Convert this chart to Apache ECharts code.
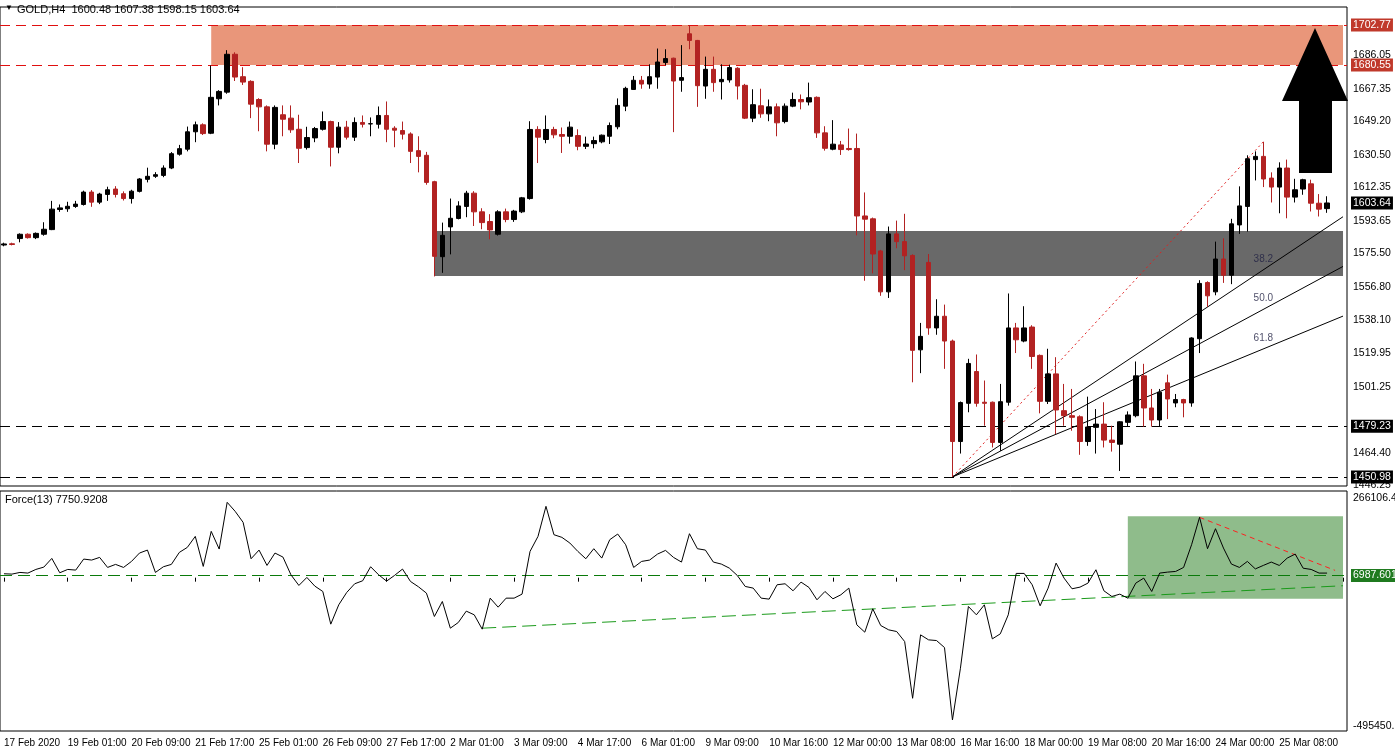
<!DOCTYPE html>
<html><head><meta charset="utf-8">
<script src="https://cdn.jsdelivr.net/npm/echarts@6/dist/echarts.min.js"></script>
<style>html,body{margin:0;padding:0;background:#fff}#c{width:1395px;height:753px}</style>
</head><body><div id="c"></div>
<script>
/* GOLD H4 with Force(13) panel, MT4 look */
var candles = [ // [open, close, low, high]
[1580.2,1580.8,1579.5,1581.5],[1580.9,1580.5,1580,1581.5],[1583.8,1586.2,1581.7,1586.7],[1586.2,1584.3,1583.8,1586.7],[1584.3,1586.7,1583.5,1587.2],
[1586.2,1589.0,1585.4,1592.9],[1588.8,1600.2,1588.5,1604.8],[1600.0,1600.9,1598.7,1602.8],[1600.4,1601.8,1598.7,1604.3],[1601.7,1603.0,1600.9,1604.8],
[1602.8,1609.7,1602.2,1610.5],[1609.7,1604.1,1601.5,1610.8],[1604.1,1608.6,1603.0,1609.3],[1608.4,1611.0,1604.8,1612.7],[1611.4,1608.4,1606.7,1613.0],
[1608.8,1606.1,1605.0,1610.1],[1606.1,1610.2,1603.3,1611.0],[1610.1,1617.0,1609.5,1617.5],[1616.8,1618.5,1615.1,1623.3],[1618.5,1619.4,1617.6,1620.8],
[1619.0,1623.1,1618.0,1624.6],[1623.1,1631.1,1622.5,1632.0],[1630.8,1633.9,1630.0,1636.0],[1633.6,1643.3,1632.4,1646.2],[1643.3,1647.2,1637.5,1649.0],
[1647.2,1642.3,1641.5,1648.0],[1642.5,1662.5,1642.0,1680.2],[1661.7,1665.8,1658.0,1666.5],[1665.4,1686.5,1664.5,1688.8],[1686.5,1673.8,1671.6,1687.6],
[1674.0,1671.0,1669.4,1679.3],[1671.4,1658.7,1650.9,1672.0],[1661.3,1657.2,1643.6,1662.0],[1657.2,1636.4,1632.4,1658.0],[1636.4,1656.9,1633.6,1658.0],
[1652.8,1650.3,1640.8,1658.0],[1650.9,1644.4,1642.7,1658.0],[1644.7,1634.1,1625.9,1652.8],[1634.5,1640.1,1633.4,1646.1],[1639.9,1645.1,1637.5,1646.0],
[1644.7,1649.0,1644.0,1654.6],[1649.0,1634.7,1624.0,1649.5],[1634.7,1645.9,1631.3,1648.7],[1645.9,1640.3,1639.0,1649.4],[1640.3,1648.5,1638.2,1651.3],
[1648.5,1647.5,1645.7,1652.4],[1647.7,1647.8,1640.8,1651.3],[1647.5,1652.4,1645.1,1657.4],[1652.4,1644.7,1637.5,1660.2],[1645.3,1644.2,1634.7,1646.4],
[1644.0,1642.0,1639.0,1649.0],[1642.1,1632.4,1625.9,1643.0],[1632.8,1629.6,1620.7,1640.8],[1630.2,1615.1,1613.8,1632.1],[1615.5,1573.9,1562.7,1616.0],
[1573.7,1585.6,1564.7,1592.7],[1590.3,1595.1,1575.0,1606.1],[1595.0,1602.0,1594.5,1604.6],[1601.7,1609.1,1595.7,1610.4],[1609.1,1598.7,1590.8,1610.2],
[1598.7,1592.7,1589.0,1600.7],[1593.3,1588.6,1583.4,1597.4],[1586.2,1598.7,1585.5,1599.6],[1598.7,1594.4,1592.9,1600.5],[1594.4,1599.1,1593.1,1599.8],
[1598.7,1606.5,1598.0,1607.0],[1606.1,1644.6,1605.5,1649.2],[1644.6,1640.3,1625.9,1646.4],[1639.0,1644.6,1636.9,1652.4],[1644.6,1641.6,1639.7,1646.1],
[1641.8,1640.8,1631.5,1645.7],[1640.8,1645.9,1636.7,1649.0],[1641.2,1635.2,1633.0,1644.7],[1635.2,1636.5,1633.7,1640.6],[1636.7,1638.4,1634.1,1640.6],
[1637.7,1641.4,1636.9,1641.8],[1640.8,1646.8,1636.5,1648.5],[1646.1,1658.0,1644.7,1661.9],[1657.6,1667.5,1654.8,1668.4],[1666.9,1672.0,1666.8,1674.4],
[1672.0,1669.9,1667.3,1674.4],[1669.9,1674.0,1667.3,1680.9],[1673.8,1682.2,1667.3,1689.7],[1681.9,1684.1,1680.4,1689.3],[1684.3,1671.6,1643.1,1684.6],
[1672.0,1673.5,1665.6,1691.6],[1697.9,1694.2,1689.3,1702.8],[1694.2,1669.0,1657.2,1694.5],
[1668.8,1678.1,1661.7,1685.2],[1678.1,1670.7,1665.6,1685.2],[1671.2,1672.5,1661.3,1680.9],[1672.2,1679.1,1670.7,1680.7],[1678.7,1668.8,1661.3,1679.3],
[1669.2,1650.9,1650.4,1670.0],[1650.9,1658.4,1648.7,1667.0],[1657.8,1653.3,1651.1,1667.3],[1653.3,1657.2,1649.2,1661.3],[1657.2,1648.3,1640.8,1659.1],
[1649.0,1657.6,1648.0,1659.1],[1657.6,1661.3,1657.0,1665.1],[1661.3,1660.0,1655.8,1664.1],[1659.9,1662.3,1658.0,1670.7],[1662.5,1642.7,1639.9,1663.0],
[1642.7,1634.1,1632.8,1646.4],[1633.6,1636.4,1633.0,1649.8],[1636.0,1633.4,1630.4,1638.2],[1634.0,1633.4,1632.8,1645.1],[1634.0,1596.4,1585.6,1642.3],
[1596.4,1594.6,1560.3,1609.5],[1594.8,1575.2,1564.4,1595.5],[1576.9,1554.1,1551.9,1577.5],[1554.1,1586.4,1550.7,1590.5],[1586.4,1582.1,1578.4,1593.8],
[1582.1,1574.2,1566.2,1597.6],[1574.4,1521.5,1503.7,1575.0],[1521.8,1529.3,1508.8,1536.8],[1570.5,1534.0,1530.2,1575.2],[1534.0,1540.5,1530.2,1550.0],
[1540.5,1526.7,1511.2,1547.0],[1526.7,1470.7,1451.0,1527.5],[1470.7,1492.4,1464.0,1493.0],[1492.0,1514.2,1487.0,1516.8],[1509.7,1492.0,1490.1,1519.2],
[1492.6,1492.0,1479.5,1504.7],[1492.6,1470.2,1467.4,1493.0],[1470.2,1492.9,1465.5,1502.8],[1492.6,1534.0,1490.7,1553.2],[1534.0,1527.4,1520.0,1536.8],
[1526.7,1534.0,1526.0,1546.1],[1534.5,1518.1,1511.2,1535.5],[1518.7,1493.1,1486.4,1519.2],[1493.1,1508.4,1491.6,1522.4],[1508.4,1488.3,1474.8,1517.7],
[1487.9,1485.1,1479.5,1502.8],[1485.1,1484.2,1476.7,1500.0],[1484.5,1470.7,1463.3,1485.3],[1470.7,1478.8,1468.3,1495.7],[1478.6,1480.4,1464.0,1488.8],
[1480.4,1471.5,1467.4,1492.6],[1471.5,1470.2,1465.1,1479.5],[1469.2,1481.7,1454.3,1482.0],[1481.4,1485.5,1479.0,1487.5],[1485.1,1507.3,1484.2,1515.3],
[1507.3,1489.4,1479.0,1514.0],[1489.4,1482.7,1479.0,1500.0],[1482.7,1498.2,1479.0,1500.0],[1503.4,1494.4,1483.2,1508.0],[1492.2,1494.1,1489.8,1497.2],
[1494.1,1492.2,1484.2,1494.5],[1492.2,1528.4,1490.1,1528.8],[1528.0,1558.8,1520.0,1560.6],[1559.3,1551.9,1545.7,1560.0],[1554.1,1572.4,1552.2,1582.1],
[1572.4,1563.4,1559.1,1583.9],[1563.4,1592.0,1558.4,1594.8],[1591.4,1602.0,1586.4,1612.9],[1601.7,1628.3,1587.7,1630.2],[1627.8,1629.6,1616.2,1632.4],
[1629.6,1617.0,1612.5,1637.7],[1617.5,1612.5,1603.9,1620.7],[1612.5,1623.1,1597.9,1626.3],[1623.1,1606.9,1595.1,1627.8],[1606.9,1611.0,1603.9,1617.1],
[1611.4,1616.6,1608.2,1617.1],[1614.3,1603.5,1598.9,1616.6],[1603.5,1600.2,1596.1,1608.6],[1600.48,1603.64,1598.15,1607.38]
];
var forceK = [ // Force(13), thousands
13.0,11.9,17.5,15.3,27.5,35.3,64.3,16.4,27.5,25.3,62.1,58.8,67.7,34.2,44.3,34.2,54.3,82.2,92.2,17.5,
36.5,44.3,84.4,101.1,137.9,37.6,154.7,95.6,251.7,221.6,184.8,63.2,92.2,40.9,82.2,68.8,9.7,-26.0,0.8,-28.2,
-46.1,-155.3,-90.7,-49.4,-20.4,-10.4,36.5,9.7,-11.5,7.5,28.7,-12.6,-30.4,-51.6,-129.7,-79.5,-168.7,-149.7,-111.8,-124.1,
-172.0,-68.4,-98.5,-68.4,-68.4,-55.0,87.7,137.9,238.3,143.5,134.6,115.6,87.7,63.2,96.7,65.4,126.8,145.7,110.0,34.2,
54.3,58.8,78.8,91.1,67.7,52.1,146.8,96.7,
92.2,52.1,45.4,32.0,7.5,-29.3,-34.9,-68.4,-71.7,-23.7,-20.4,-43.8,-14.8,-32.7,-73.9,-46.1,-70.6,-57.2,-34.9,-157.6,
-182.1,-104.0,-159.8,-174.3,-179.9,-213.3,-402.9,-191.0,-207.7,-210.0,-233.4,-475.3,-302.5,-96.2,-124.1,-90.7,-204.4,-187.7,-124.1,14.2,
14.2,-23.7,-94.0,-34.9,48.7,-1.5,-37.1,-31.6,-18.2,26.4,-43.8,-62.8,-55.0,-68.4,-18.2,-1.5,-46.1,15.3,18.6,20.8,
34.2,110.0,201.5,96.7,163.6,98.9,45.4,34.2,54.3,29.3,40.9,52.1,40.9,65.4,78.8,31.6,27.5,15.3,15.3
];
var tickLabels = ["17 Feb 2020","19 Feb 01:00","20 Feb 09:00","21 Feb 17:00","25 Feb 01:00","26 Feb 09:00","27 Feb 17:00",
  "2 Mar 01:00","3 Mar 09:00","4 Mar 17:00","6 Mar 01:00","9 Mar 09:00","10 Mar 16:00","12 Mar 00:00","13 Mar 08:00",
  "16 Mar 16:00","18 Mar 00:00","19 Mar 08:00","20 Mar 16:00","24 Mar 00:00","25 Mar 08:00"];
var priceTicks = [1686.05,1667.35,1649.20,1630.50,1612.35,1593.65,1575.50,1556.80,1538.10,1519.95,1501.25,1464.40,1446.25];
var resistance = [1702.77, 1680.55];
var support = [1479.23, 1450.98];
var grayZone = [1562.9, 1588.0];
var lastPrice = 1603.64;
var fanStart = [119, 1450.98], fanTop = [158, 1637.7], fanLevels = [0.382, 0.5, 0.618];
var forceLevel = 6987.6010, forceMax = 266106.44, forceMin = -495450.16;
var forceSupport = [[60, -168.7], [168, -27.0]];
var forceResist = [[150, 201.5], [167, 24.4]];
var forceBox = [141, -70.6, 204.8];

var NCAT = 169, RED = "#b22222", FONT = "Liberation Sans";
var cats = []; for (var i = 0; i < NCAT; i++) cats.push(String(i));
var force = forceK.map(function (v) { return Math.round(v * 1000); });

function boxLabel(txt, bg, fg) {
  return { show: true, position: "end", distance: 4, formatter: txt, color: fg || "#000",
    backgroundColor: bg || "transparent", padding: [1, 2], fontSize: 10.5, fontFamily: FONT };
}
// one helper series per family of horizontal lines, so each family keeps its own colour
function hLines(axis, values, color, dash, bg, fg, texts) {
  return { type: "line", xAxisIndex: axis, yAxisIndex: axis, data: [], silent: true,
    markLine: { silent: true, symbol: "none", z: 3,
      lineStyle: { color: color || "rgba(255,255,255,0)", type: dash || "solid", width: 1 },
      data: values.map(function (v, k) {
        return { yAxis: v, label: boxLabel(texts ? texts[k] : v.toFixed(2), bg, fg) };
      }) } };
}

var fanSeries = fanLevels.map(function (r) {
  var lv = fanTop[1] - r * (fanTop[1] - fanStart[1]);
  var end = fanStart[1] + (lv - fanStart[1]) * (NCAT - 1 - fanStart[0]) / (fanTop[0] - fanStart[0]);
  return { type: "line", xAxisIndex: 0, yAxisIndex: 0, symbol: "none", silent: true,
    lineStyle: { color: "#000", width: 1 }, data: [[fanStart[0], fanStart[1]], [NCAT - 1, end]] };
});
var fibLabels = fanLevels.map(function (r) {
  var lv = fanTop[1] - r * (fanTop[1] - fanStart[1]);
  return { value: [fanTop[0], lv], label: { formatter: (r * 100).toFixed(1) } };
});

var chart = echarts.init(document.getElementById("c"));
chart.setOption({
  animation: false,
  grid: [
    { left: -2, right: 48, top: 7, height: 479, show: true, borderColor: "#000", borderWidth: 1, backgroundColor: "#fff" },
    { left: -2, right: 48, top: 491, height: 240, show: true, borderColor: "#000", borderWidth: 1 }
  ],
  xAxis: [
    { type: "category", data: cats, gridIndex: 0, axisLine: { show: false }, axisTick: { show: false }, axisLabel: { show: false } },
    { type: "category", data: cats, gridIndex: 1, axisLine: { show: false },
      axisTick: { show: true, interval: 7, alignWithLabel: true, length: 4, lineStyle: { color: "#000" } },
      axisLabel: { interval: 7, align: "left", margin: 7, fontSize: 10, fontFamily: FONT, color: "#000",
        formatter: function (v) { return tickLabels[Number(v) / 8] || ""; } } }
  ],
  yAxis: [
    { type: "value", gridIndex: 0, position: "right", min: 1445.92, max: 1712.84, splitLine: { show: false },
      axisLabel: { show: false }, axisLine: { show: false } },
    { type: "value", gridIndex: 1, position: "right", min: -512150, max: 289486, splitLine: { show: false },
      axisLabel: { show: false }, axisLine: { show: false } }
  ],
  graphic: [
    { type: "text", left: 5, top: 4, style: { text: "\u25bc", fontSize: 8, fill: "#000", y: 3 } },
    { type: "text", left: 17, top: 4, style: { text: "GOLD,H4  1600.48 1607.38 1598.15 1603.64", fontSize: 11, fontFamily: FONT, fill: "#000" } },
    { type: "text", left: 5, top: 494, style: { text: "Force(13) 7750.9208", fontSize: 11, fontFamily: FONT, fill: "#000" } },
    { type: "polygon", z: 100, shape: { points: [[1299, 173], [1299, 101], [1282, 101], [1315, 28], [1348, 101], [1332, 101], [1332, 173]] },
      style: { fill: "#000" } }
  ],
  series: [
    { type: "candlestick", xAxisIndex: 0, yAxisIndex: 0, barWidth: 5, data: candles, z: 5,
      itemStyle: { color: "#000", color0: RED, borderColor: "#000", borderColor0: RED, borderWidth: 1 },
      markArea: { silent: true, z: 1, data: [
        [{ xAxis: "26", yAxis: resistance[1], itemStyle: { color: "#e9967a" } }, { xAxis: String(NCAT - 1), yAxis: resistance[0] }],
        [{ xAxis: "54", yAxis: grayZone[0], itemStyle: { color: "#696969" } }, { xAxis: String(NCAT - 1), yAxis: grayZone[1] }]
      ] } },
    hLines(0, priceTicks, null),
    hLines(0, resistance, "#e01010", [10, 6], "#c0392b", "#fff"),
    hLines(0, support, "#000", [10, 6], "#000", "#fff"),
    hLines(0, [lastPrice], null, null, "#000", "#fff"),
    hLines(1, [forceLevel], "#0a7a0a", [12, 6], "#1f7a1f", "#fff", ["6987.6010"]),
    hLines(1, [forceMax, forceMin], null, null, null, null, ["266106.44", "-495450.1"]),
    { type: "line", xAxisIndex: 0, yAxisIndex: 0, symbol: "none", silent: true,
      lineStyle: { color: "#e02020", width: 1, type: [2, 3] }, data: [fanStart, fanTop] }
  ].concat(fanSeries).concat([
    { type: "scatter", xAxisIndex: 0, yAxisIndex: 0, symbolSize: 0, silent: true, data: fibLabels,
      label: { show: true, position: "top", distance: 6, color: "#222244", fontSize: 10, fontFamily: FONT } },
    { type: "line", xAxisIndex: 1, yAxisIndex: 1, symbol: "none", silent: true, z: 5,
      lineStyle: { color: "#000", width: 1 }, data: force,
      markArea: { silent: true, z: 1, data: [[
        { xAxis: String(forceBox[0]), yAxis: forceBox[1] * 1000, itemStyle: { color: "#8fbc8b" } },
        { xAxis: String(NCAT - 1), yAxis: forceBox[2] * 1000 }]] } },
    { type: "line", xAxisIndex: 1, yAxisIndex: 1, symbol: "none", silent: true,
      lineStyle: { color: "#1a9a1a", width: 1, type: [14, 6] },
      data: forceSupport.map(function (p) { return [p[0], p[1] * 1000]; }) },
    { type: "line", xAxisIndex: 1, yAxisIndex: 1, symbol: "none", silent: true,
      lineStyle: { color: "#ff2020", width: 1, type: [5, 4] },
      data: forceResist.map(function (p) { return [p[0], p[1] * 1000]; }) }
  ])
});
</script></body></html>
